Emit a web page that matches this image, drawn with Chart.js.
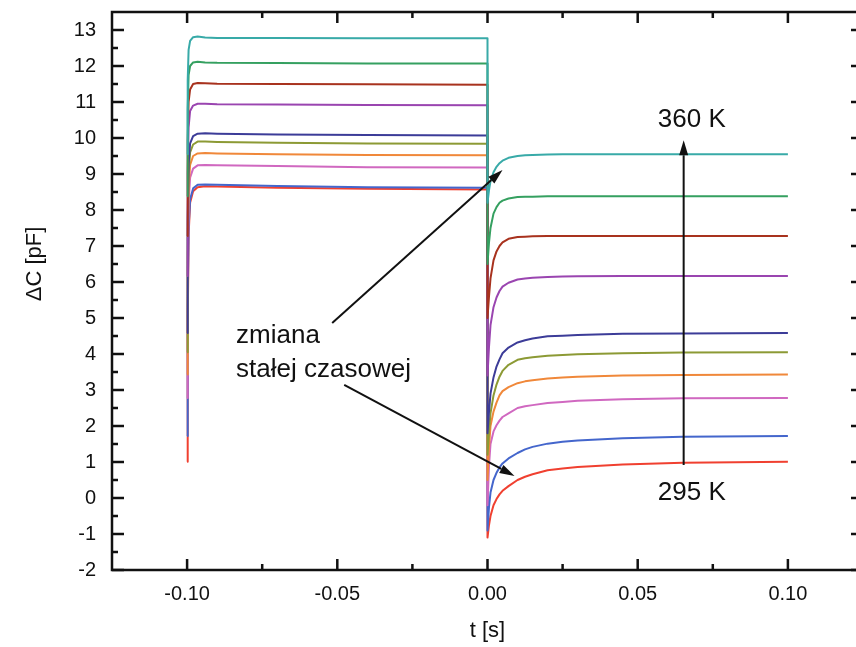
<!DOCTYPE html>
<html>
<head>
<meta charset="utf-8">
<script src="https://cdn.jsdelivr.net/npm/chart.js@4.4.1/dist/chart.umd.min.js"></script>
<style>
  html, body { margin: 0; padding: 0; background: #fff; overflow: hidden; }
  #wrap { width: 856px; height: 647px; overflow: hidden; }
</style>
</head>
<body>
<div id="wrap"><canvas id="chart" width="870" height="647"></canvas></div>
<script>
// time axis shared by all curves [s]
const time = [-0.1, -0.0998, -0.0995, -0.099, -0.098, -0.0965, -0.094, -0.09, -0.07, -0.04, 0,
              0, 0.0005, 0.001, 0.002, 0.003, 0.004, 0.005, 0.007, 0.01, 0.0125, 0.015,
              0.02, 0.025, 0.03, 0.045, 0.065, 0.1];

// capacitance change [pF], from 360 K (top) down to 295 K (bottom)
const c1 = [9.55, 11.6, 12.45, 12.7, 12.8, 12.82, 12.79, 12.78, 12.78, 12.77, 12.77,
            8.2, 8.55, 8.8, 9.05, 9.2, 9.3, 9.37, 9.45, 9.5, 9.52, 9.53, 9.54, 9.55, 9.55, 9.55, 9.55, 9.55];
const c2 = [8.38, 10.8, 11.75, 12.0, 12.1, 12.12, 12.1, 12.09, 12.08, 12.07, 12.07,
            6.5, 7.1, 7.5, 7.9, 8.08, 8.2, 8.26, 8.32, 8.36, 8.37, 8.37, 8.38, 8.38, 8.38, 8.38, 8.38, 8.38];
const c3 = [7.28, 9.9, 11.0, 11.35, 11.5, 11.53, 11.52, 11.51, 11.5, 11.49, 11.48,
            5.0, 5.6, 6.1, 6.6, 6.85, 7.0, 7.1, 7.2, 7.25, 7.26, 7.27, 7.28, 7.28, 7.28, 7.28, 7.28, 7.28];
const c4 = [6.17, 9.0, 10.3, 10.75, 10.9, 10.95, 10.95, 10.94, 10.93, 10.92, 10.91,
            3.4, 4.2, 4.8, 5.3, 5.57, 5.75, 5.87, 5.98, 6.07, 6.1, 6.12, 6.14, 6.15, 6.16, 6.17, 6.17, 6.17];
const c5 = [4.58, 7.8, 9.3, 9.85, 10.05, 10.12, 10.13, 10.12, 10.1, 10.08, 10.07,
            1.8, 2.4, 2.9, 3.35, 3.65, 3.85, 4.02, 4.18, 4.32, 4.38, 4.43, 4.49, 4.51, 4.53, 4.56, 4.57, 4.58];
const c6 = [4.05, 7.3, 9.0, 9.6, 9.82, 9.9, 9.9, 9.89, 9.87, 9.85, 9.84,
            1.2, 1.85, 2.35, 2.85, 3.15, 3.37, 3.53, 3.7, 3.84, 3.88, 3.91, 3.95, 3.97, 3.99, 4.02, 4.04, 4.05];
const c7 = [3.43, 6.8, 8.6, 9.25, 9.5, 9.57, 9.58, 9.57, 9.55, 9.53, 9.52,
            0.5, 1.4, 2.0, 2.4, 2.65, 2.85, 2.97, 3.08, 3.19, 3.24, 3.27, 3.32, 3.35, 3.37, 3.4, 3.42, 3.43];
const c8 = [2.78, 6.2, 8.2, 8.9, 9.15, 9.24, 9.25, 9.24, 9.22, 9.19, 9.18,
            -0.2, 0.9, 1.5, 1.85, 2.02, 2.15, 2.25, 2.35, 2.5, 2.55, 2.58, 2.64, 2.67, 2.7, 2.74, 2.77, 2.78];
const c9 = [1.72, 5.3, 7.5, 8.3, 8.6, 8.7, 8.71, 8.7, 8.67, 8.63, 8.62,
            -0.9, -0.25, 0.15, 0.5, 0.7, 0.85, 0.96, 1.1, 1.25, 1.35, 1.42, 1.51, 1.56, 1.6, 1.66, 1.7, 1.72];
const c10 = [1.01, 4.8, 7.3, 8.2, 8.52, 8.63, 8.66, 8.65, 8.62, 8.59, 8.57,
            -1.1, -0.75, -0.5, -0.2, -0.03, 0.1, 0.2, 0.33, 0.5, 0.59, 0.66, 0.77, 0.82, 0.86, 0.93, 0.98, 1.01];

const curves = [c1, c2, c3, c4, c5, c6, c7, c8, c9, c10];
const colors = ['#38aaa8', '#35a060', '#a8321e', '#9a45b0', '#3c3c98',
                '#8c9a35', '#f0883a', '#d068c0', '#4466cc', '#f04030'];

const xTicks = [-0.1, -0.05, 0, 0.05, 0.1];
const xMinor = [-0.075, -0.025, 0.025, 0.075];
const yTicks = [-2, -1, 0, 1, 2, 3, 4, 5, 6, 7, 8, 9, 10, 11, 12, 13];
const yMinor = [-1.5, -0.5, 0.5, 1.5, 2.5, 3.5, 4.5, 5.5, 6.5, 7.5, 8.5, 9.5, 10.5, 11.5, 12.5];

// annotations in data units: [t1, v1, t2, v2], arrowhead at the second point
const arrows = [[-0.0517, 4.86, 0.005, 9.11], [-0.0477, 3.14, 0.009, 0.61], [0.0653, 0.92, 0.0653, 9.94]];
const notes = [
  { text: '360 K', t: 0.068, v: 10.31, align: 'center' },
  { text: '295 K', t: 0.068, v: -0.06, align: 'center' },
  { text: 'zmiana', t: -0.0837, v: 4.30, align: 'left' },
  { text: 'stałej czasowej', t: -0.0837, v: 3.37, align: 'left' }
];

const FONT = '"Liberation Sans", Arial, sans-serif';

function drawArrow(ctx, x1, y1, x2, y2) {
  const ang = Math.atan2(y2 - y1, x2 - x1);
  const head = 15, half = 4.5;
  const bx = x2 - head * Math.cos(ang), by = y2 - head * Math.sin(ang);
  ctx.beginPath(); ctx.moveTo(x1, y1); ctx.lineTo(bx, by); ctx.stroke();
  ctx.beginPath(); ctx.moveTo(x2, y2);
  ctx.lineTo(bx + half * Math.sin(ang), by - half * Math.cos(ang));
  ctx.lineTo(bx - half * Math.sin(ang), by + half * Math.cos(ang));
  ctx.closePath(); ctx.fill();
}

const decorations = {
  id: 'decorations',
  afterDatasetsDraw(chart) {
    const { ctx, chartArea: a, scales: { x, y } } = chart;
    ctx.save();
    ctx.strokeStyle = '#111';
    ctx.fillStyle = '#111';

    // frame
    ctx.lineWidth = 2.5;
    ctx.strokeRect(a.left, a.top, a.right - a.left, a.bottom - a.top);

    // inward ticks on all four sides
    ctx.beginPath();
    const tickX = (vals, len) => vals.forEach(v => {
      const px = x.getPixelForValue(v);
      ctx.moveTo(px, a.bottom); ctx.lineTo(px, a.bottom - len);
      ctx.moveTo(px, a.top); ctx.lineTo(px, a.top + len);
    });
    const tickY = (vals, len) => vals.forEach(v => {
      const py = y.getPixelForValue(v);
      ctx.moveTo(a.left, py); ctx.lineTo(a.left + len, py);
      ctx.moveTo(a.right, py); ctx.lineTo(a.right - len, py);
    });
    tickX(xTicks, 11); tickX(xMinor, 6);
    tickY(yTicks, 12); tickY(yMinor, 6);
    ctx.stroke();

    // arrows
    ctx.lineWidth = 2;
    arrows.forEach(([t1, v1, t2, v2]) => drawArrow(ctx,
      x.getPixelForValue(t1), y.getPixelForValue(v1),
      x.getPixelForValue(t2), y.getPixelForValue(v2)));

    // notes
    ctx.font = '26px ' + FONT;
    ctx.textBaseline = 'alphabetic';
    notes.forEach(n => {
      ctx.textAlign = n.align;
      ctx.fillText(n.text, x.getPixelForValue(n.t), y.getPixelForValue(n.v));
    });

    // axis titles
    ctx.font = '22px ' + FONT;
    ctx.textAlign = 'center';
    ctx.textBaseline = 'middle';
    ctx.fillText('t [s]', (a.left + a.right) / 2, 631);
    ctx.translate(35, 264);
    ctx.rotate(-Math.PI / 2);
    ctx.fillText('\u0394C [pF]', 0, 0);
    ctx.restore();
  }
};

new Chart(document.getElementById('chart'), {
  type: 'line',
  data: {
    datasets: curves.map((vals, i) => ({
      data: time.map((t, j) => ({ x: t, y: vals[j] })),
      borderColor: colors[i],
      borderWidth: 2,
      pointRadius: 0,
      tension: 0,
      borderJoinStyle: 'round',
      fill: false
    }))
  },
  options: {
    responsive: false,
    animation: false,
    devicePixelRatio: 1,
    layout: { padding: { top: 12, right: 7, left: 0, bottom: 0 } },
    plugins: { legend: { display: false }, tooltip: { enabled: false } },
    scales: {
      x: {
        type: 'linear',
        min: -0.125,
        max: 0.125,
        grid: { display: false, drawTicks: false },
        border: { display: false },
        afterBuildTicks: s => { s.ticks = xTicks.map(v => ({ value: v })); },
        afterFit: s => { s.height = 77; s.paddingLeft = 0; s.paddingRight = 0; },
        ticks: {
          padding: 12,
          color: '#111',
          font: { family: FONT, size: 20 },
          callback: v => v.toFixed(2)
        }
      },
      y: {
        type: 'linear',
        min: -2,
        max: 13.5,
        grid: { display: false, drawTicks: false },
        border: { display: false },
        afterBuildTicks: s => { s.ticks = yTicks.map(v => ({ value: v })); },
        afterFit: s => { s.width = 112; s.paddingTop = 0; s.paddingBottom = 0; },
        ticks: {
          padding: 16,
          color: '#111',
          font: { family: FONT, size: 20 },
          callback: v => String(v)
        }
      }
    }
  },
  plugins: [decorations]
});
</script>
</body>
</html>
